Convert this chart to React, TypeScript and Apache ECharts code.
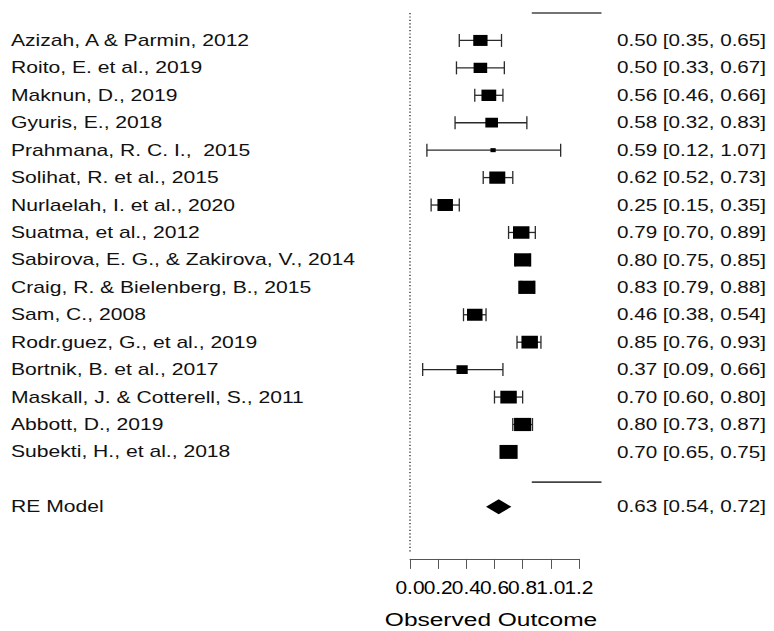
import React, { useEffect, useRef } from "react";
import * as echarts from "echarts";

const studies = [
  "Azizah, A & Parmin, 2012",
  "Roito, E. et al., 2019",
  "Maknun, D., 2019",
  "Gyuris, E., 2018",
  "Prahmana, R. C. I.,  2015",
  "Solihat, R. et al., 2015",
  "Nurlaelah, I. et al., 2020",
  "Suatma, et al., 2012",
  "Sabirova, E. G., & Zakirova, V., 2014",
  "Craig, R. & Bielenberg, B., 2015",
  "Sam, C., 2008",
  "Rodr.guez, G., et al., 2019",
  "Bortnik, B. et al., 2017",
  "Maskall, J. & Cotterell, S., 2011",
  "Abbott, D., 2019",
  "Subekti, H., et al., 2018",
];
const estimates = [0.5, 0.5, 0.56, 0.58, 0.59, 0.62, 0.25, 0.79, 0.8, 0.83, 0.46, 0.85, 0.37, 0.7, 0.8, 0.7];
const lowers = [0.35, 0.33, 0.46, 0.32, 0.12, 0.52, 0.15, 0.7, 0.75, 0.79, 0.38, 0.76, 0.09, 0.6, 0.73, 0.65];
const uppers = [0.65, 0.67, 0.66, 0.83, 1.07, 0.73, 0.35, 0.89, 0.85, 0.88, 0.54, 0.93, 0.66, 0.8, 0.87, 0.75];
const weights = [6.0, 5.7, 6.2, 5.3, 2.2, 6.7, 6.5, 6.9, 7.2, 7.2, 6.5, 6.9, 4.7, 6.9, 7.2, 7.6];

const modelLabel = "RE Model";
const modelEstimate = 0.63;
const modelLower = 0.54;
const modelUpper = 0.72;
const modelRow = 17;

const xTicks = [0, 0.2, 0.4, 0.6, 0.8, 1.0, 1.2];
const xTickLabels = ["0.0", "0.2", "0.4", "0.6", "0.8", "1.0", "1.2"];
const separatorRows = [-1, 16.1];
const separatorSpan = [0.865, 1.36];
const axisTitle = "Observed Outcome";

const FONT = '"Liberation Sans", Arial, sans-serif';
const SX = 1.32;

const fmt = (e: number, l: number, u: number) =>
  `${e.toFixed(2)} [${l.toFixed(2)}, ${u.toFixed(2)}]`;

export default function App() {
  const ref = useRef<HTMLDivElement>(null);
  useEffect(() => {
    if (!ref.current) return;
    const chart = echarts.init(ref.current, null, { renderer: "svg" });

    const rowIdx = studies.map((_, i) => i);
    const allLabels = [...studies, modelLabel];
    const allRows = [...rowIdx, modelRow];
    const allTexts = [
      ...studies.map((_, i) => fmt(estimates[i], lowers[i], uppers[i])),
      fmt(modelEstimate, modelLower, modelUpper),
    ];

    const option: any = {
      animation: false,
      backgroundColor: "#fff",
      grid: { left: 410, top: 13, width: 168.96, height: 545.9 },
      xAxis: {
        type: "value",
        min: xTicks[0],
        max: xTicks[xTicks.length - 1],
        interval: 0.2,
        axisLine: { show: true, onZero: false, lineStyle: { color: "#555", width: 1 } },
        axisTick: { show: true, length: 10, lineStyle: { color: "#555", width: 1 } },
        splitLine: { show: false },
        axisLabel: { show: false },
      },
      yAxis: {
        type: "value",
        inverse: true,
        min: -1,
        max: 18.9,
        show: false,
      },
      graphic: [
        {
          type: "text",
          x: 491,
          y: 620,
          scaleX: 1.29,
          style: {
            text: axisTitle,
            fontFamily: FONT,
            fontSize: 19,
            fill: "#000",
            align: "center",
            verticalAlign: "middle",
          },
        },
      ],
      series: [
        {
          type: "custom",
          name: "reference",
          data: [[0, -1, 18.7]],
          encode: { x: 0, y: [1, 2] },
          renderItem: (params: any, api: any) => {
            const p1 = api.coord([api.value(0), api.value(1)]);
            const p2 = api.coord([api.value(0), api.value(2)]);
            const children: any[] = [
              {
                type: "line",
                shape: { x1: p1[0], y1: p1[1], x2: p2[0], y2: p2[1] },
                style: { stroke: "#222", lineWidth: 1.3, lineDash: [1.2, 2.2] },
              },
            ];
            separatorRows.forEach((r) => {
              const a = api.coord([separatorSpan[0], r]);
              const b = api.coord([separatorSpan[1], r]);
              children.push({
                type: "line",
                shape: { x1: a[0], y1: a[1], x2: b[0], y2: b[1] },
                style: { stroke: "#444", lineWidth: 1.6 },
              });
            });
            return { type: "group", children };
          },
        },
        {
          type: "custom",
          name: "tickLabels",
          data: xTicks.map((t) => [t]),
          encode: { x: 0 },
          renderItem: (params: any, api: any) => {
            const x = api.coord([api.value(0), 0])[0];
            const y = params.coordSys.y + params.coordSys.height + 28;
            return {
              type: "text",
              x,
              y,
              scaleX: 1.1,
              style: {
                text: xTickLabels[params.dataIndex],
                fontFamily: FONT,
                fontSize: 19,
                fill: "#000",
                align: "center",
                verticalAlign: "middle",
              },
            };
          },
        },
        {
          type: "custom",
          name: "studies",
          data: rowIdx.map((i) => [i, estimates[i], lowers[i], uppers[i], weights[i]]),
          encode: { x: [1, 2, 3], y: 0 },
          renderItem: (params: any, api: any) => {
            const row = api.value(0);
            const [xe, y] = api.coord([api.value(1), row]);
            const xl = api.coord([api.value(2), row])[0];
            const xh = api.coord([api.value(3), row])[0];
            const h = api.value(4) * 1.835;
            const bw = h * 1.3;
            const cap = 6.5;
            const ls = { stroke: "#2a2a2a", lineWidth: 1.3 };
            return {
              type: "group",
              children: [
                { type: "line", shape: { x1: xl, y1: y, x2: xh, y2: y }, style: ls },
                { type: "line", shape: { x1: xl, y1: y - cap, x2: xl, y2: y + cap }, style: ls },
                { type: "line", shape: { x1: xh, y1: y - cap, x2: xh, y2: y + cap }, style: ls },
                {
                  type: "rect",
                  shape: { x: xe - bw / 2, y: y - h / 2, width: bw, height: h },
                  style: { fill: "#000" },
                },
              ],
            };
          },
        },
        {
          type: "custom",
          name: "model",
          data: [[modelRow, modelEstimate, modelLower, modelUpper]],
          encode: { x: [1, 2, 3], y: 0 },
          renderItem: (params: any, api: any) => {
            const row = api.value(0);
            const [xe, y] = api.coord([api.value(1), row]);
            const xl = api.coord([api.value(2), row])[0];
            const xh = api.coord([api.value(3), row])[0];
            const hh = 7.5;
            return {
              type: "polygon",
              shape: {
                points: [
                  [xl, y],
                  [xe, y - hh],
                  [xh, y],
                  [xe, y + hh],
                ],
              },
              style: { fill: "#000" },
            };
          },
        },
        {
          type: "custom",
          name: "labels",
          data: allRows.map((r) => [0, r]),
          encode: { x: 0, y: 1 },
          renderItem: (params: any, api: any) => {
            const i = params.dataIndex;
            const y = api.coord([0, api.value(1)])[1];
            const left = params.coordSys.x;
            const right = params.coordSys.x + params.coordSys.width;
            return {
              type: "group",
              children: [
                {
                  type: "text",
                  x: left - 399,
                  y: y,
                  scaleX: SX,
                  style: {
                    text: allLabels[i],
                    fontFamily: FONT,
                    fontSize: 16,
                    fill: "#111",
                    align: "left",
                    verticalAlign: "middle",
                  },
                },
                {
                  type: "text",
                  x: right + 38,
                  y: y,
                  scaleX: 1.29,
                  style: {
                    text: allTexts[i],
                    fontFamily: FONT,
                    fontSize: 16,
                    fill: "#111",
                    align: "left",
                    verticalAlign: "middle",
                  },
                },
              ],
            };
          },
        },
      ],
    };
    chart.setOption(option);
    return () => chart.dispose();
  }, []);
  return (
    <div
      ref={ref}
      style={{ position: "fixed", left: 0, top: 0, width: 774, height: 631, background: "#fff" }}
    />
  );
}
